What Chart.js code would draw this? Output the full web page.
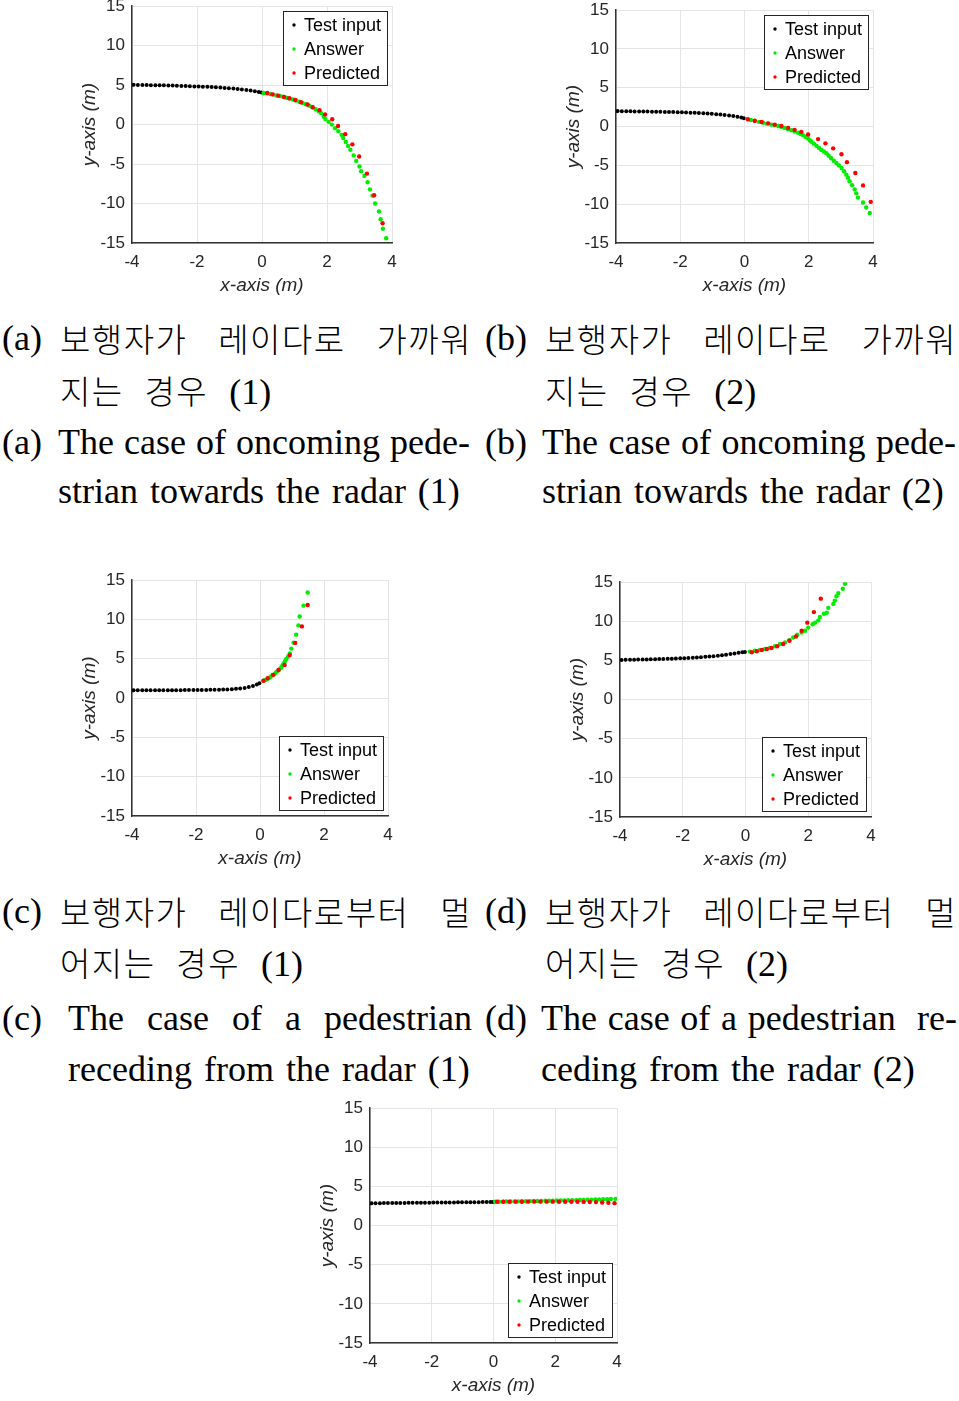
<!DOCTYPE html>
<html>
<head>
<meta charset="utf-8">
<script src="https://cdn.jsdelivr.net/npm/chart.js@4/dist/chart.umd.min.js"></script>
<style>
  body { margin: 0; background: #fff; width: 959px; height: 1401px; position: relative; overflow: hidden; }
  canvas { position: absolute; }
  .cap { position: absolute; font-family: "Liberation Serif", "Times New Roman", serif; font-size: 36px;
         line-height: 44px; white-space: nowrap; color: #000; }
  .ko { font-family: "Noto Sans CJK KR", sans-serif; font-size: 33px; font-weight: 300; letter-spacing: 1.5px; }
  .just { text-align: justify; text-align-last: justify; white-space: normal; }
</style>
</head>
<body>

<!-- captions (a) / (b) -->
<div class="cap" style="left:2px;top:316px">(a)</div>
<div class="cap just" style="left:60px;top:316px;width:412px"><span class="ko">보행자가 레이다로 가까워</span></div>
<div class="cap" style="left:60px;top:368px;word-spacing:12px"><span class="ko">지는 경우</span> (1)</div>
<div class="cap" style="left:2px;top:420px">(a)</div>
<div class="cap just" style="left:58px;top:420px;width:412px">The case of oncoming pede-</div>
<div class="cap" style="left:58px;top:469px;word-spacing:3px">strian towards the radar (1)</div>

<div class="cap" style="left:485px;top:316px">(b)</div>
<div class="cap just" style="left:545px;top:316px;width:412px"><span class="ko">보행자가 레이다로 가까워</span></div>
<div class="cap" style="left:545px;top:368px;word-spacing:12px"><span class="ko">지는 경우</span> (2)</div>
<div class="cap" style="left:485px;top:420px">(b)</div>
<div class="cap just" style="left:542px;top:420px;width:414px">The case of oncoming pede-</div>
<div class="cap" style="left:542px;top:469px;word-spacing:3px">strian towards the radar (2)</div>

<!-- captions (c) / (d) -->
<div class="cap" style="left:2px;top:889px">(c)</div>
<div class="cap just" style="left:60px;top:889px;width:412px"><span class="ko">보행자가 레이다로부터 멀</span></div>
<div class="cap" style="left:60px;top:940px;word-spacing:12px"><span class="ko">어지는 경우</span> (1)</div>
<div class="cap" style="left:2px;top:996px">(c)</div>
<div class="cap just" style="left:68px;top:996px;width:404px">The case of a pedestrian</div>
<div class="cap" style="left:68px;top:1047px;word-spacing:3px">receding from the radar (1)</div>

<div class="cap" style="left:485px;top:889px">(d)</div>
<div class="cap just" style="left:545px;top:889px;width:412px"><span class="ko">보행자가 레이다로부터 멀</span></div>
<div class="cap" style="left:545px;top:940px;word-spacing:12px"><span class="ko">어지는 경우</span> (2)</div>
<div class="cap" style="left:485px;top:996px">(d)</div>
<div class="cap just" style="left:541px;top:996px;width:416px">The case of a pedestrian &nbsp;re-</div>
<div class="cap" style="left:541px;top:1047px;word-spacing:3px">ceding from the radar (2)</div>

<script>
// ---- data, [x, y] in metres ----
const seriesNames = ["Test input", "Answer", "Predicted"];

const aTest = [[-3.95,5.04],[-3.82,5.03],[-3.68,5.02],[-3.55,5.01],[-3.42,5.0],[-3.28,4.99],[-3.15,4.98],[-3.02,4.97],[-2.88,4.96],[-2.75,4.94],[-2.62,4.92],[-2.48,4.9],[-2.35,4.88],[-2.22,4.86],[-2.08,4.84],[-1.95,4.82],[-1.82,4.8],[-1.68,4.78],[-1.55,4.76],[-1.42,4.73],[-1.28,4.69],[-1.15,4.65],[-1.02,4.6],[-0.88,4.56],[-0.75,4.51],[-0.62,4.46],[-0.48,4.39],[-0.35,4.31],[-0.22,4.22],[-0.1,4.13],[-0.02,4.06]];
const aAnswer = [[0.05,4.0],[0.15,3.95],[0.25,3.88],[0.35,3.8],[0.45,3.7],[0.55,3.62],[0.65,3.52],[0.75,3.4],[0.85,3.3],[0.95,3.18],[1.05,3.05],[1.15,2.9],[1.25,2.75],[1.35,2.58],[1.45,2.4],[1.55,2.2],[1.65,1.95],[1.75,1.7],[1.82,1.45],[1.9,1.0],[1.95,0.7],[2.05,0.35],[2.15,0.0],[2.25,-0.45],[2.35,-0.85],[2.45,-1.3],[2.5,-1.7],[2.58,-2.2],[2.65,-2.7],[2.72,-3.2],[2.82,-3.9],[2.9,-4.6],[3.0,-5.3],[3.05,-5.9],[3.15,-6.5],[3.25,-7.3],[3.32,-8.2],[3.4,-9.0],[3.48,-10.0],[3.6,-11.0],[3.65,-12.0],[3.72,-13.2],[3.82,-14.4]];
const aPred = [[0.16,4.0],[0.32,3.83],[0.5,3.67],[0.68,3.5],[0.84,3.33],[1.02,3.12],[1.2,2.83],[1.4,2.54],[1.56,2.2],[1.77,1.83],[1.94,1.29],[2.16,0.67],[2.34,-0.17],[2.56,-1.21],[2.78,-2.5],[2.99,-4.04],[3.23,-6.21],[3.45,-8.96],[3.71,-12.5]];

const bTest = [[-3.95,2.0],[-3.82,1.99],[-3.68,1.98],[-3.55,1.97],[-3.42,1.96],[-3.28,1.95],[-3.15,1.94],[-3.02,1.93],[-2.88,1.92],[-2.75,1.91],[-2.62,1.9],[-2.48,1.89],[-2.35,1.88],[-2.22,1.87],[-2.08,1.86],[-1.95,1.84],[-1.82,1.82],[-1.68,1.8],[-1.55,1.77],[-1.42,1.74],[-1.28,1.71],[-1.15,1.68],[-1.02,1.64],[-0.88,1.6],[-0.75,1.55],[-0.62,1.5],[-0.48,1.43],[-0.35,1.35],[-0.22,1.26],[-0.1,1.16],[-0.02,1.08]];
const bAnswer = [[0.09,1.0],[0.2,0.86],[0.32,0.72],[0.45,0.61],[0.58,0.5],[0.7,0.38],[0.84,0.25],[0.95,0.16],[1.05,0.08],[1.15,-0.04],[1.25,-0.17],[1.35,-0.32],[1.46,-0.47],[1.56,-0.63],[1.67,-0.8],[1.75,-0.95],[1.82,-1.1],[1.9,-1.3],[1.98,-1.53],[2.03,-1.75],[2.08,-1.95],[2.16,-2.2],[2.24,-2.46],[2.32,-2.75],[2.39,-3.0],[2.47,-3.2],[2.55,-3.43],[2.62,-3.75],[2.7,-4.07],[2.78,-4.4],[2.86,-4.7],[2.94,-5.0],[3.02,-5.34],[3.1,-5.75],[3.17,-6.19],[3.22,-6.6],[3.27,-7.03],[3.35,-7.55],[3.43,-8.09],[3.48,-8.6],[3.53,-9.15],[3.69,-9.79],[3.79,-10.42],[3.9,-11.14]];
const bPred = [[0.11,0.93],[0.32,0.76],[0.53,0.59],[0.74,0.42],[0.94,0.25],[1.15,0.08],[1.36,-0.17],[1.56,-0.42],[1.77,-0.68],[1.98,-1.02],[2.29,-1.61],[2.52,-2.16],[2.76,-2.8],[3.02,-3.56],[3.19,-4.58],[3.45,-5.97],[3.69,-7.58],[3.93,-9.7]];

const cTest = [[-3.95,1.0],[-3.82,1.0],[-3.68,1.0],[-3.55,1.0],[-3.42,1.0],[-3.28,1.0],[-3.15,1.0],[-3.02,1.0],[-2.88,1.01],[-2.75,1.01],[-2.62,1.01],[-2.48,1.01],[-2.35,1.02],[-2.22,1.02],[-2.08,1.02],[-1.95,1.03],[-1.82,1.03],[-1.68,1.04],[-1.55,1.05],[-1.42,1.06],[-1.28,1.07],[-1.15,1.09],[-1.02,1.11],[-0.88,1.14],[-0.75,1.18],[-0.62,1.23],[-0.48,1.3],[-0.35,1.4],[-0.22,1.55],[-0.1,1.72],[-0.02,1.9]];
const cAnswer = [[0.11,2.2],[0.18,2.32],[0.24,2.45],[0.3,2.6],[0.34,2.74],[0.4,2.9],[0.45,3.03],[0.5,3.25],[0.55,3.46],[0.6,3.65],[0.66,3.87],[0.7,4.15],[0.74,4.42],[0.78,4.7],[0.82,4.97],[0.88,5.3],[0.93,5.68],[0.98,6.3],[1.05,7.06],[1.13,8.07],[1.2,9.25],[1.24,10.38],[1.36,11.76],[1.49,13.43]];
const cPred = [[0.11,2.2],[0.24,2.53],[0.41,2.96],[0.58,3.58],[0.77,4.21],[0.93,5.47],[1.1,7.02],[1.31,9.12],[1.49,11.84]];

const dTest = [[-3.95,5.07],[-3.82,5.08],[-3.68,5.09],[-3.55,5.1],[-3.42,5.11],[-3.28,5.12],[-3.15,5.13],[-3.02,5.15],[-2.88,5.16],[-2.75,5.18],[-2.62,5.19],[-2.48,5.21],[-2.35,5.23],[-2.22,5.25],[-2.08,5.27],[-1.95,5.29],[-1.82,5.32],[-1.68,5.35],[-1.55,5.38],[-1.42,5.42],[-1.28,5.46],[-1.15,5.5],[-1.02,5.55],[-0.88,5.61],[-0.75,5.67],[-0.62,5.74],[-0.48,5.82],[-0.35,5.9],[-0.22,5.97],[-0.1,6.04],[-0.02,6.09]];
const dAnswer = [[0.14,6.13],[0.3,6.26],[0.46,6.34],[0.62,6.47],[0.78,6.6],[0.94,6.81],[1.1,7.1],[1.26,7.31],[1.4,7.6],[1.52,7.94],[1.65,8.28],[1.79,8.57],[1.9,8.79],[2.0,9.2],[2.14,9.62],[2.22,9.83],[2.32,10.12],[2.37,10.55],[2.5,10.97],[2.59,11.09],[2.64,11.72],[2.8,12.23],[2.85,12.65],[2.9,13.2],[2.96,13.61],[3.1,14.16],[3.17,14.79]];
const dPred = [[0.2,6.05],[0.36,6.18],[0.52,6.34],[0.68,6.47],[0.83,6.6],[1.01,6.81],[1.2,7.1],[1.4,7.52],[1.61,8.07],[1.79,8.79],[1.97,9.83],[2.18,11.18],[2.4,12.9]];

const eTest = [[-3.95,2.86],[-3.82,2.87],[-3.68,2.87],[-3.55,2.88],[-3.42,2.88],[-3.28,2.89],[-3.15,2.89],[-3.02,2.9],[-2.88,2.9],[-2.75,2.91],[-2.62,2.91],[-2.48,2.92],[-2.35,2.92],[-2.22,2.93],[-2.08,2.93],[-1.95,2.94],[-1.82,2.94],[-1.68,2.95],[-1.55,2.95],[-1.42,2.96],[-1.28,2.96],[-1.15,2.97],[-1.02,2.97],[-0.88,2.98],[-0.75,2.98],[-0.62,2.99],[-0.48,2.99],[-0.35,3.0],[-0.22,3.0],[-0.1,3.01],[-0.02,3.01]];
const eAnswer = [[0.05,3.04],[0.18,3.05],[0.3,3.06],[0.42,3.07],[0.55,3.08],[0.68,3.09],[0.8,3.1],[0.92,3.11],[1.05,3.12],[1.18,3.13],[1.3,3.14],[1.42,3.15],[1.55,3.16],[1.68,3.17],[1.8,3.18],[1.92,3.19],[2.05,3.2],[2.18,3.21],[2.3,3.22],[2.42,3.23],[2.55,3.25],[2.68,3.26],[2.8,3.27],[2.92,3.29],[3.05,3.3],[3.18,3.32],[3.3,3.33],[3.42,3.35],[3.55,3.37],[3.68,3.38],[3.8,3.4],[3.95,3.42]];
const ePred = [[0.12,3.04],[0.32,3.04],[0.52,3.05],[0.72,3.05],[0.92,3.05],[1.12,3.06],[1.32,3.06],[1.52,3.06],[1.72,3.06],[1.92,3.06],[2.12,3.05],[2.32,3.05],[2.52,3.05],[2.72,3.04],[2.92,3.03],[3.12,3.02],[3.32,3.0],[3.52,2.95],[3.72,2.91],[3.92,2.87]];

// ---- panel placement (plot area in page pixels) ----
const panels = [
  { l: 132, t: 3,    r: 392, b: 243,  corner: "top",    data: [aTest, aAnswer, aPred] },
  { l: 616, t: 7,    r: 873, b: 243,  corner: "top",    data: [bTest, bAnswer, bPred] },
  { l: 132, t: 577,  r: 388, b: 816,  corner: "bottom", data: [cTest, cAnswer, cPred] },
  { l: 620, t: 579,  r: 871, b: 817,  corner: "bottom", data: [dTest, dAnswer, dPred] },
  { l: 370, t: 1105, r: 617, b: 1343, corner: "bottom", data: [eTest, eAnswer, ePred] }
];

const colors = ["#000000", "#00ee00", "#ff0000"];
const FONT = '"Liberation Sans", Arial, sans-serif';
const AXW = 62, AXH = 62, PADT = 14, PADR = 14;

const legendBox = {
  id: "legendBox",
  afterDatasetsDraw(chart, args, opts) {
    const { ctx, chartArea: a } = chart;
    const w = 104, h = 74;
    const x = Math.round(a.right - 5 - w);
    const y = Math.round(opts.corner === "top" ? a.top + 5 : a.bottom - 6 - h);
    ctx.save();
    ctx.fillStyle = "#fff";
    ctx.fillRect(x, y, w, h);
    ctx.strokeStyle = "#262626";
    ctx.lineWidth = 1;
    ctx.strokeRect(x + 0.5, y + 0.5, w, h);
    ctx.font = "18px " + FONT;
    ctx.textBaseline = "middle";
    chart.data.datasets.forEach((ds, i) => {
      const yy = y + 14 + i * 24;
      ctx.fillStyle = ds.backgroundColor;
      ctx.beginPath();
      ctx.arc(x + 11, yy, 1.7, 0, Math.PI * 2);
      ctx.fill();
      ctx.fillStyle = "#000";
      ctx.fillText(ds.label, x + 21, yy + 1);
    });
    ctx.restore();
  }
};

panels.forEach(p => {
  const cv = document.createElement("canvas");
  const W = (p.r - p.l) + AXW + PADR;
  const H = (p.b - p.t) + PADT + AXH;
  cv.width = W; cv.height = H;
  cv.style.left = (p.l - AXW) + "px";
  cv.style.top = (p.t - PADT) + "px";
  cv.style.width = W + "px"; cv.style.height = H + "px";
  document.body.appendChild(cv);

  new Chart(cv, {
    type: "scatter",
    data: {
      datasets: p.data.map((pts, i) => ({
        label: seriesNames[i],
        data: pts.map(([x, y]) => ({ x, y })),
        backgroundColor: colors[i],
        borderWidth: 0,
        pointRadius: i === 0 ? 2 : 2.2,
        pointHoverRadius: 0,
        order: 2 - i
      }))
    },
    options: {
      responsive: false,
      animation: false,
      events: [],
      layout: { padding: { top: PADT, right: PADR, left: 0, bottom: 0 } },
      plugins: { legend: { display: false }, tooltip: { enabled: false }, legendBox: { corner: p.corner } },
      scales: {
        x: {
          min: -4, max: 4,
          afterFit: s => { s.height = AXH; },
          ticks: { stepSize: 2, padding: 9, color: "#262626", font: { family: FONT, size: 17 } },
          grid: { color: "#e4e4e4", lineWidth: 1, drawTicks: false },
          border: { color: "#333", width: 1.5 },
          title: { display: true, text: "x-axis (m)", color: "#262626", padding: { top: 0, bottom: 8 },
                   font: { family: FONT, size: 19, style: "italic" } }
        },
        y: {
          min: -15, max: 15,
          afterFit: s => { s.width = AXW; },
          ticks: { stepSize: 5, padding: 7, color: "#262626", font: { family: FONT, size: 17 } },
          grid: { color: "#e4e4e4", lineWidth: 1, drawTicks: false },
          border: { color: "#333", width: 1.5 },
          title: { display: true, text: "y-axis (m)", color: "#262626", padding: { top: 8, bottom: 0 },
                   font: { family: FONT, size: 19, style: "italic" } }
        }
      }
    },
    plugins: [legendBox]
  });
});
</script>
</body>
</html>
